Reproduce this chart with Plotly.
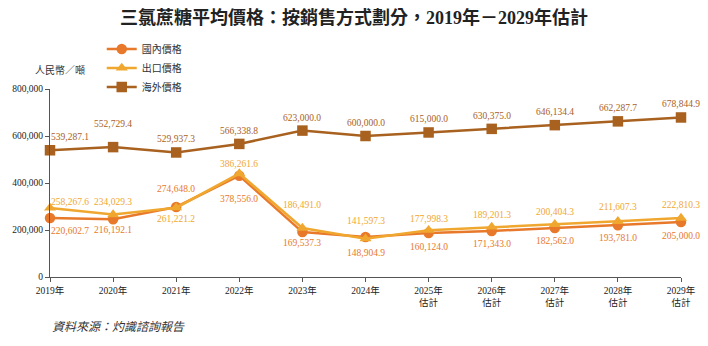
import plotly.graph_objects as go

years = ["2019年", "2020年", "2021年", "2022年", "2023年", "2024年",
         "2025年<br>估計", "2026年<br>估計", "2027年<br>估計", "2028年<br>估計", "2029年<br>估計"]

# plotted positions
domestic = [251000, 245500, 298000, 431000, 191000, 170000, 187000, 196000, 208500, 220000, 234000]
export = [294000, 265500, 295000, 440000, 208500, 163000, 199000, 213000, 224000, 237000, 251000]
overseas = [539287.1, 552729.4, 529937.3, 566338.8, 623000.0, 600000.0, 615000.0, 630375.0, 646134.4, 662287.7, 678844.9]

# data labels as printed
domestic_lbl = ["220,602.7", "216,192.1", "274,648.0", "378,556.0", "169,537.3", "148,904.9",
                "160,124.0", "171,343.0", "182,562.0", "193,781.0", "205,000.0"]
export_lbl = ["258,267.6", "234,029.3", "261,221.2", "386,261.6", "186,491.0", "141,597.3",
              "177,998.3", "189,201.3", "200,404.3", "211,607.3", "222,810.3"]
overseas_lbl = ["539,287.1", "552,729.4", "529,937.3", "566,338.8", "623,000.0", "600,000.0",
                "615,000.0", "630,375.0", "646,134.4", "662,287.7", "678,844.9"]

names = ["國內價格", "出口價格", "海外價格"]
colors = ["#E8792A", "#F0A72F", "#A8611F"]
symbols = ["circle", "triangle-up", "square"]

# label offsets in pixels (layout only)
dom_dy = [-13, -11, 18, -23, -11, -16, -14, -13, -13, -13, -14]
exp_dy = [6, 13, -11, 10, 23, 18, 11, 12, 12, 14, 13]
ovs_dy = [13, 23, 13, 13, 13, 13, 13, 13, 13, 13, 13]
dx = [20] + [0] * 10

FONT = "Liberation Serif, Noto Sans CJK TC, serif"

fig = go.Figure()
series = [(domestic, domestic_lbl, dom_dy), (export, export_lbl, exp_dy), (overseas, overseas_lbl, ovs_dy)]
for i, (vals, lbls, dys) in enumerate(series):
    fig.add_trace(go.Scatter(
        x=years, y=vals, name=names[i], mode="lines+markers",
        line=dict(color=colors[i], width=2.5),
        marker=dict(symbol=symbols[i], size=10.5, color=colors[i]),
        cliponaxis=False,
    ))
for i, (vals, lbls, dys) in enumerate(series):
    for j in range(len(years)):
        fig.add_annotation(x=years[j], y=vals[j], text=lbls[j], showarrow=False,
                           xshift=dx[j], yshift=dys[j], xanchor="center", yanchor="middle",
                           font=dict(family=FONT, size=9.5, color=colors[i]))

fig.update_layout(
    width=708, height=346,
    margin=dict(l=50, r=23, t=89, b=69),
    paper_bgcolor="white", plot_bgcolor="white",
    font=dict(family=FONT, size=10, color="#333333"),
    title=dict(text="<b>三氯蔗糖平均價格：按銷售方式劃分，2019年－2029年估計</b>",
               x=0.5, xanchor="center", y=0.948, yref="container", yanchor="middle",
               font=dict(family=FONT, size=18, color="#222222")),
    legend=dict(x=0.082, y=1.29, xanchor="left", yanchor="top",
                font=dict(family=FONT, size=10, color="#333333"),
                bgcolor="rgba(0,0,0,0)", tracegroupgap=0),
    showlegend=True,
)
fig.update_xaxes(
    type="category", range=[0, 10], showline=True, linecolor="#555555", linewidth=1.2,
    ticks="outside", ticklen=4, tickcolor="#555555", showgrid=False,
    tickfont=dict(family=FONT, size=9.5, color="#222222"), zeroline=False,
)
fig.update_yaxes(
    range=[0, 800000], tickvals=[0, 200000, 400000, 600000, 800000], tickformat=",",
    showline=True, linecolor="#555555", linewidth=1.2, ticks="outside", ticklen=4,
    tickcolor="#555555", showgrid=False, zeroline=False,
    tickfont=dict(family=FONT, size=9.5, color="#222222"),
)
fig.add_annotation(text="人民幣／噸", xref="paper", yref="paper", x=0.016, y=1.101,
                   xanchor="center", yanchor="middle",
                   showarrow=False, font=dict(family=FONT, size=10, color="#333333"))
fig.add_annotation(text="<i>資料來源：灼識諮詢報告</i>", xref="paper", yref="paper", x=0.0, y=-0.266,
                   xanchor="left", yanchor="middle", showarrow=False,
                   font=dict(family=FONT, size=12, color="#333333"))

fig.write_html("out.html")
